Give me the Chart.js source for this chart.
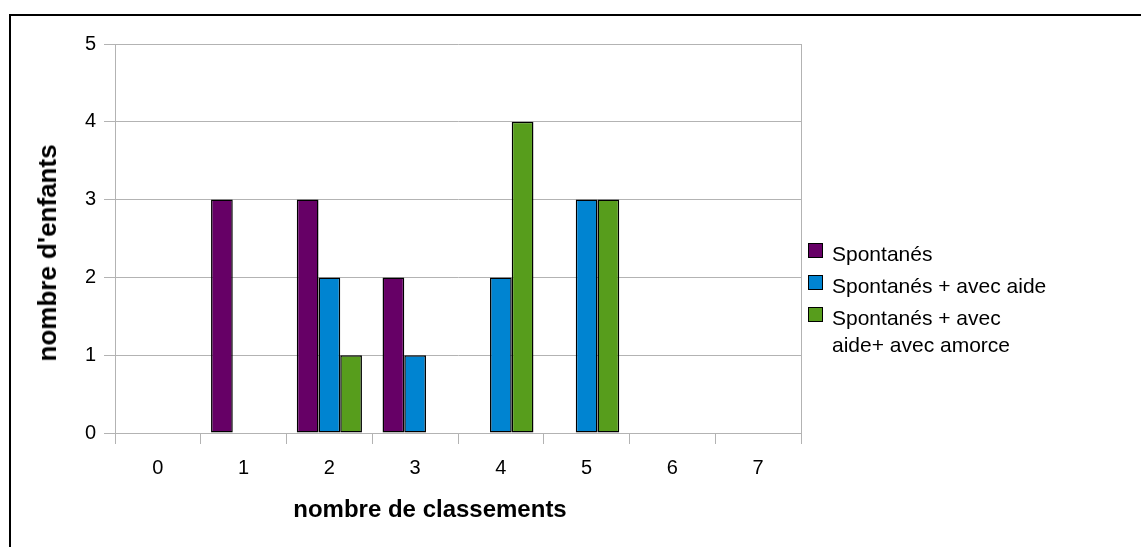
<!DOCTYPE html>
<html lang="fr">
<head>
<meta charset="utf-8">
<title>nombre de classements</title>
<script src="https://cdn.jsdelivr.net/npm/chart.js@4.4.3/dist/chart.umd.min.js"></script>
<style>
  html, body {
    margin: 0;
    padding: 0;
    background: #fff;
    overflow: hidden;
  }
  body {
    width: 1141px;
    height: 547px;
    position: relative;
    font-family: "Liberation Sans", Arial, sans-serif;
    color: #000;
  }
  .frame {
    position: absolute;
    left: 9px;
    top: 14px;
    width: 2000px;
    height: 2000px;
    border-left: 2px solid #000;
    border-top: 2px solid #000;
  }
  #chart-wrap {
    position: absolute;
    left: 0;
    top: 0;
    width: 1141px;
    height: 547px;
  }
  .axis-title {
    position: absolute;
    font-weight: bold;
    line-height: 30px;
    white-space: nowrap;
  }
  .x-title {
    font-size: 24px;
    left: 430px;
    top: 494px;
    transform: translateX(-50%);
  }
  .y-title {
    font-size: 26px;
    left: 47px;
    top: 253px;
    transform: translate(-50%, -50%) rotate(-90deg);
  }
  .legend-box {
    position: absolute;
    left: 808px;
    width: 13px;
    height: 13px;
    border: 1px solid #000;
  }
  .legend-text {
    position: absolute;
    left: 832px;
    font-size: 21px;
    line-height: 27px;
    white-space: nowrap;
  }
</style>
</head>
<body>
<div class="frame"></div>
<div id="chart-wrap"><canvas id="classements-chart"></canvas></div>
<div class="axis-title x-title">nombre de classements</div>
<div class="axis-title y-title">nombre d'enfants</div>
<div id="legend"></div>
<script>
const categories = ["0", "1", "2", "3", "4", "5", "6", "7"];
const spontanes = [0, 3, 3, 2, 0, 0, 0, 0];
const spontanesAvecAide = [0, 0, 2, 1, 2, 3, 0, 0];
const spontanesAvecAmorce = [0, 0, 1, 0, 4, 3, 0, 0];
const yTicks = [0, 1, 2, 3, 4, 5];

const seriesLabels = [
  "Spontanés",
  "Spontanés + avec aide",
  ["Spontanés + avec", "aide+ avec amorce"],
];
const seriesColors = ["#660066", "#0084d1", "#579d1c"];

const gridColor = "#b3b3b3";

// legend drawn in html so the wrapped third label keeps its two lines
const legendEl = document.getElementById("legend");
const boxTops = [243, 275, 307];
const textTops = [240, 272, 304];
seriesLabels.forEach((label, i) => {
  const box = document.createElement("div");
  box.className = "legend-box";
  box.style.top = `${boxTops[i]}px`;
  box.style.background = seriesColors[i];
  legendEl.appendChild(box);

  const text = document.createElement("div");
  text.className = "legend-text";
  text.style.top = `${textTops[i]}px`;
  text.innerHTML = Array.isArray(label) ? label.join("<br>") : label;
  legendEl.appendChild(text);
});

// right edge of the plot wall
const plotFrame = {
  id: "plotFrame",
  beforeDatasetsDraw(chart) {
    const { ctx, chartArea } = chart;
    ctx.save();
    ctx.strokeStyle = gridColor;
    ctx.lineWidth = 1;
    ctx.beginPath();
    ctx.moveTo(Math.round(chartArea.right) + 0.5, chartArea.top);
    ctx.lineTo(Math.round(chartArea.right) + 0.5, chartArea.bottom);
    ctx.stroke();
    ctx.restore();
  },
};

function makeDataset(label, data, color) {
  return {
    label,
    data,
    backgroundColor: color,
    borderColor: "#000",
    borderWidth: (ctx) => (ctx.raw ? 1.5 : 0),
    borderSkipped: false,
    inflateAmount: 0,
    categoryPercentage: 0.76,
    barPercentage: 1,
  };
}

const canvas = document.getElementById("classements-chart");

new Chart(canvas, {
  type: "bar",
  data: {
    labels: categories,
    datasets: [
      makeDataset(seriesLabels[0], spontanes, seriesColors[0]),
      makeDataset(seriesLabels[1], spontanesAvecAide, seriesColors[1]),
      makeDataset(seriesLabels[2].join(" "), spontanesAvecAmorce, seriesColors[2]),
    ],
  },
  options: {
    responsive: true,
    maintainAspectRatio: false,
    animation: false,
    layout: {
      padding: { left: 0, top: 44, right: 340, bottom: 0 },
    },
    scales: {
      x: {
        offset: true,
        grid: {
          offset: true,
          drawOnChartArea: false,
          drawTicks: true,
          tickLength: 11,
          color: gridColor,
        },
        border: { color: gridColor },
        ticks: {
          color: "#000",
          padding: 12,
          font: { family: "'Liberation Sans', Arial, sans-serif", size: 20 },
        },
        afterFit(scale) {
          scale.height = 114;
        },
      },
      y: {
        min: 0,
        max: 5,
        afterBuildTicks(scale) {
          scale.ticks = yTicks.map((value) => ({ value }));
        },
        grid: {
          color: gridColor,
          tickLength: 11,
        },
        border: { color: gridColor },
        ticks: {
          color: "#000",
          padding: 8,
          font: { family: "'Liberation Sans', Arial, sans-serif", size: 20 },
        },
        afterFit(scale) {
          scale.width = 115;
        },
      },
    },
    plugins: {
      legend: { display: false },
      tooltip: { enabled: false },
    },
  },
  plugins: [plotFrame],
});
</script>
</body>
</html>
